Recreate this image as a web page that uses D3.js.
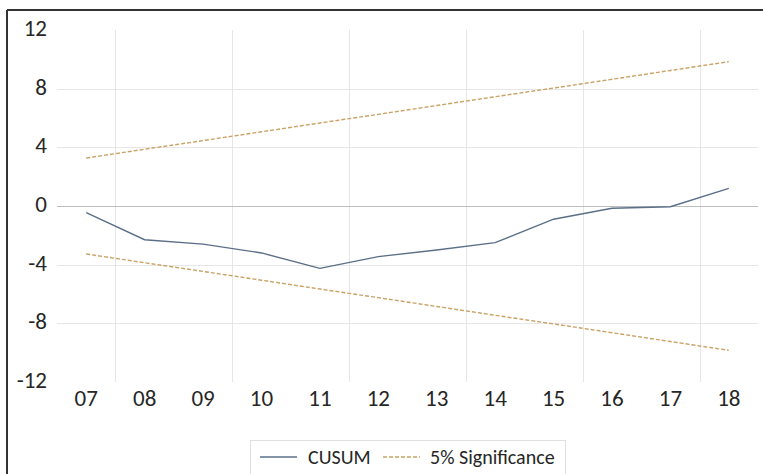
<!DOCTYPE html>
<html><head><meta charset="utf-8">
<script src="https://cdn.jsdelivr.net/npm/d3@7"></script>
<style>body{margin:0;background:#fff}svg{display:block}text{font-family:Carlito,"Open Sans",sans-serif;fill:#262626}</style>
</head><body><svg id="c" width="765" height="474"></svg>
<script>
const years = ["07","08","09","10","11","12","13","14","15","16","17","18"];
const cusum = [-0.45,-2.3,-2.6,-3.2,-4.25,-3.45,-3.0,-2.5,-0.9,-0.15,-0.05,1.2];
const upper = [3.27,3.87,4.46,5.06,5.66,6.25,6.85,7.45,8.04,8.64,9.24,9.84];
const lower = [-3.27,-3.87,-4.46,-5.06,-5.66,-6.25,-6.85,-7.45,-8.04,-8.64,-9.24,-9.84];
const yTicks = [12,8,4,0,-4,-8,-12];
const legendLabels = ["CUSUM","5% Significance"];

const svg = d3.select("#c");
const colCusum = "#5b6f88", colSig = "#c9a266";
const FONT = 'Carlito,"Open Sans",sans-serif';
// outer frame
svg.append("line").attr("x1",7).attr("x2",763).attr("y1",10).attr("y2",10).attr("stroke","#333").attr("stroke-width",2);
svg.append("line").attr("x1",7).attr("x2",7).attr("y1",10).attr("y2",474).attr("stroke","#333").attr("stroke-width",2);

const x = d3.scaleBand().domain(years).range([57,758]);
const y = d3.scaleLinear().domain([-12,12]).range([382,30]);
const cx = d => x(d)+x.bandwidth()/2;

// vertical gridlines at every other band boundary
const vg = years.filter((d,i)=>i%2===1);
svg.append("g").selectAll("line").data(vg).join("line")
  .attr("x1",d=>Math.round(x(d))+0.5).attr("x2",d=>Math.round(x(d))+0.5).attr("y1",y(12)).attr("y2",y(-12))
  .attr("stroke","#e6e6e6").attr("stroke-width",1);
// horizontal gridlines
svg.append("g").selectAll("line").data(yTicks.filter(v=>Math.abs(v)!==12)).join("line")
  .attr("x1",57).attr("x2",758).attr("y1",d=>Math.round(y(d))+0.5).attr("y2",d=>Math.round(y(d))+0.5)
  .attr("stroke",d=>d===0?"#bdbdbd":"#e6e6e6").attr("stroke-width",1);

// y axis labels
const ya = d3.axisLeft(y).tickValues(yTicks).tickSize(0).tickPadding(0).tickFormat(d=>String(d));
const gy = svg.append("g").attr("transform","translate(47,-2)").call(ya);
gy.select(".domain").remove();
gy.selectAll("text").attr("font-size",23).style("font-family",FONT).attr("fill","#262626");

// x axis labels
const xa = d3.axisBottom(x).tickSize(0).tickPadding(0);
const gx = svg.append("g").attr("transform","translate(0,390)").call(xa);
gx.select(".domain").remove();
gx.selectAll("text").attr("font-size",23).style("font-family",FONT).attr("fill","#262626");

const line = d3.line().x((d,i)=>cx(years[i])).y(d=>y(d));
svg.append("path").datum(upper).attr("d",line).attr("fill","none").attr("stroke",colSig).attr("stroke-width",1.4).attr("stroke-dasharray","4,2");
svg.append("path").datum(lower).attr("d",line).attr("fill","none").attr("stroke",colSig).attr("stroke-width",1.4).attr("stroke-dasharray","4,2");
svg.append("path").datum(cusum).attr("d",line).attr("fill","none").attr("stroke",colCusum).attr("stroke-width",1.4);

// legend
const lg = svg.append("g");
lg.append("rect").attr("x",250.5).attr("y",440.5).attr("width",315).attr("height",40).attr("fill","#fff").attr("stroke","#e0e0e0");
lg.append("line").attr("x1",260).attr("x2",297).attr("y1",457).attr("y2",457).attr("stroke",colCusum).attr("stroke-width",1.4);
lg.append("text").attr("x",308).attr("y",464).attr("font-size",20).text(legendLabels[0]);
lg.append("line").attr("x1",383).attr("x2",420).attr("y1",457).attr("y2",457).attr("stroke",colSig).attr("stroke-width",1.4).attr("stroke-dasharray","4,2");
lg.append("text").attr("x",430).attr("y",464).attr("font-size",20).text(legendLabels[1]);
</script></body></html>
